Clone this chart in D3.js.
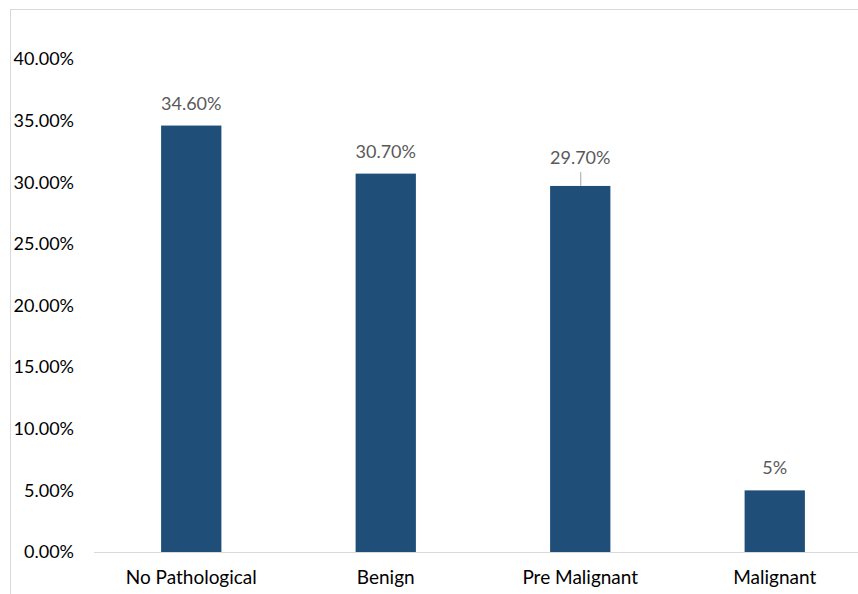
<!DOCTYPE html>
<html>
<head>
<meta charset="utf-8">
<script src="https://cdn.jsdelivr.net/npm/d3@7"></script>
<style>
  body { margin: 0; background: #fff; }
  svg text { font-family: Lato, "Open Sans", sans-serif; }
</style>
</head>
<body>
<div id="chart"></div>
<script>
var categories = ["No Pathological", "Benign", "Pre Malignant", "Malignant"];
var values = [34.6, 30.7, 29.7, 5];
var valueLabels = ["34.60%", "30.70%", "29.70%", "5%"];
var yTicks = [0, 5, 10, 15, 20, 25, 30, 35, 40];

var W = 858, H = 594;
var m = {top: 59, right: 0, bottom: 42, left: 94};

var svg = d3.select("#chart").append("svg")
    .attr("width", W)
    .attr("height", H);

// chart area border (top and left edges visible)
svg.append("line")
    .attr("x1", 10).attr("x2", W).attr("y1", 9.5).attr("y2", 9.5)
    .attr("stroke", "#d9d9d9");
svg.append("line")
    .attr("x1", 10.5).attr("x2", 10.5).attr("y1", 9).attr("y2", H)
    .attr("stroke", "#d9d9d9");

var x = d3.scaleBand()
    .domain(categories)
    .range([m.left, m.left + 4 * 194.5])
    .paddingInner(0.69)
    .paddingOuter(0.345);

var y = d3.scaleLinear()
    .domain([0, 40])
    .range([H - m.bottom, m.top]);

// y tick labels
svg.selectAll(".ytick")
    .data(yTicks)
    .enter().append("text")
    .attr("class", "ytick")
    .attr("x", 74)
    .attr("y", function(d) { return y(d); })
    .attr("dy", "0.35em")
    .attr("text-anchor", "end")
    .attr("font-size", 18)
    .attr("fill", "#000")
    .text(function(d) { return d.toFixed(2) + "%"; });

// bars
svg.selectAll(".bar")
    .data(values)
    .enter().append("rect")
    .attr("class", "bar")
    .attr("x", function(d, i) { return x(categories[i]); })
    .attr("width", x.bandwidth())
    .attr("y", function(d) { return y(d); })
    .attr("height", function(d) { return y(0) - y(d); })
    .attr("fill", "#1f4e79");

// baseline
svg.append("line")
    .attr("x1", m.left).attr("x2", W)
    .attr("y1", y(0) + 0.5).attr("y2", y(0) + 0.5)
    .attr("stroke", "#d9d9d9")
    .attr("stroke-width", 1);

// value labels (Pre Malignant one is nudged up with a leader line)
var labelOffset = [0, 0, 6, 0];
svg.selectAll(".vlabel")
    .data(values)
    .enter().append("text")
    .attr("class", "vlabel")
    .attr("x", function(d, i) { return x(categories[i]) + x.bandwidth() / 2; })
    .attr("y", function(d, i) { return y(d) - 16 - labelOffset[i]; })
    .attr("text-anchor", "middle")
    .attr("font-size", 18)
    .attr("fill", "#595959")
    .text(function(d, i) { return valueLabels[i]; });

var li = 2;
svg.append("line")
    .attr("x1", x(categories[li]) + x.bandwidth() / 2 + 0.5)
    .attr("x2", x(categories[li]) + x.bandwidth() / 2 + 0.5)
    .attr("y1", y(values[li]) - 14)
    .attr("y2", y(values[li]))
    .attr("stroke", "#a6a6a6");

// category labels
svg.selectAll(".xlabel")
    .data(categories)
    .enter().append("text")
    .attr("class", "xlabel")
    .attr("x", function(d) { return x(d) + x.bandwidth() / 2; })
    .attr("y", y(0) + 32)
    .attr("text-anchor", "middle")
    .attr("font-size", 19)
    .attr("fill", "#000")
    .text(function(d) { return d; });
</script>
</body>
</html>
